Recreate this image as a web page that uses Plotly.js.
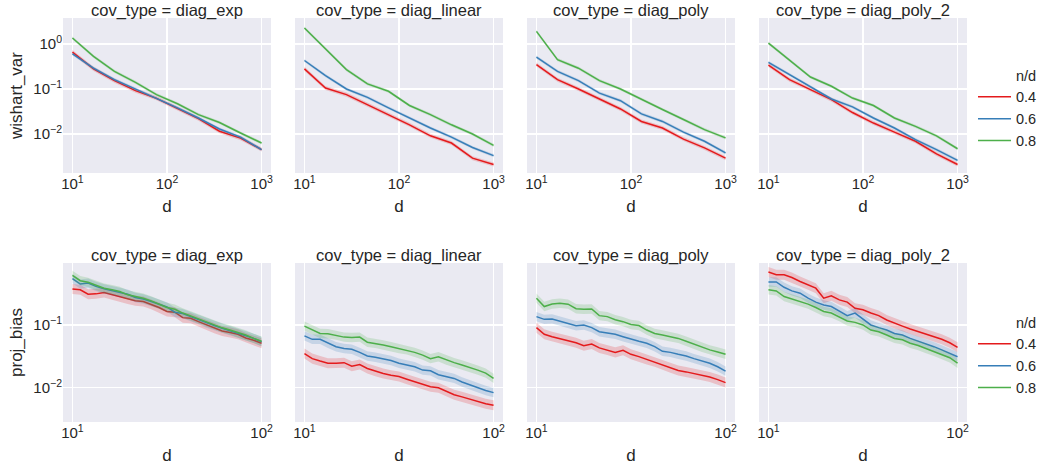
<!DOCTYPE html>
<html><head><meta charset="utf-8">
<script src="https://cdn.plot.ly/plotly-3.0.1.min.js"></script>
<style>html,body{margin:0;padding:0;background:#fff}</style>
</head><body><div id="chart" style="width:1042px;height:466px"></div>
<script>
// ---------------- data ----------------
const dTop = [10, 16.7, 27.8, 46.4, 77.4, 129, 215, 359, 599, 1000];
const dBottom = [10, 11.0, 12.1, 13.3, 14.7, 16.2, 17.8, 19.6, 21.5, 23.7, 26.1, 28.7, 31.6, 34.8, 38.3, 42.2, 46.4, 51.1, 56.2, 61.9, 68.1, 75.0, 82.5, 90.9, 100];
const ndLabels = ['0.4', '0.6', '0.8'];
const covTypes = ['diag_exp', 'diag_linear', 'diag_poly', 'diag_poly_2'];

// wishart_var (top row)
const wv_exp_04 = [0.66, 0.28, 0.153, 0.092, 0.062, 0.0366, 0.0219, 0.0115, 0.0081, 0.0045];
const wv_exp_06 = [0.60, 0.29, 0.161, 0.100, 0.063, 0.038, 0.0227, 0.0129, 0.0085, 0.0045];
const wv_exp_08 = [1.36, 0.53, 0.247, 0.140, 0.075, 0.047, 0.027, 0.018, 0.0105, 0.0063];
const wv_lin_04 = [0.28, 0.105, 0.075, 0.045, 0.027, 0.016, 0.0091, 0.0063, 0.0029, 0.0021];
const wv_lin_06 = [0.43, 0.198, 0.100, 0.065, 0.038, 0.0227, 0.0136, 0.0085, 0.0050, 0.0033];
const wv_lin_08 = [2.27, 0.77, 0.27, 0.13, 0.089, 0.043, 0.027, 0.016, 0.010, 0.0056];
const wv_poly_04 = [0.35, 0.161, 0.100, 0.061, 0.036, 0.019, 0.0136, 0.0077, 0.0049, 0.0029];
const wv_poly_06 = [0.51, 0.247, 0.153, 0.081, 0.055, 0.028, 0.019, 0.011, 0.0069, 0.0038];
const wv_poly_08 = [1.91, 0.45, 0.29, 0.153, 0.100, 0.058, 0.035, 0.021, 0.0125, 0.0082];
const wv_poly2_04 = [0.34, 0.161, 0.097, 0.058, 0.030, 0.0175, 0.011, 0.0069, 0.0036, 0.0021];
const wv_poly2_06 = [0.39, 0.209, 0.115, 0.060, 0.040, 0.0227, 0.0136, 0.0075, 0.0045, 0.0026];
const wv_poly2_08 = [1.05, 0.43, 0.185, 0.115, 0.063, 0.043, 0.0227, 0.0148, 0.0091, 0.0047];

// proj_bias (bottom row)
const pb_exp_04 = [0.377, 0.365, 0.31, 0.314, 0.33, 0.303, 0.285, 0.26, 0.243, 0.237, 0.215, 0.19, 0.164, 0.16, 0.131, 0.128, 0.113, 0.1, 0.0885, 0.08, 0.076, 0.071, 0.062, 0.057, 0.051];
const pb_exp_06 = [0.55, 0.45, 0.466, 0.413, 0.377, 0.35, 0.33, 0.31, 0.275, 0.26, 0.237, 0.215, 0.194, 0.16, 0.152, 0.136, 0.122, 0.107, 0.098, 0.0885, 0.081, 0.074, 0.067, 0.061, 0.054];
const pb_exp_08 = [0.62, 0.51, 0.48, 0.43, 0.387, 0.365, 0.343, 0.303, 0.285, 0.268, 0.243, 0.215, 0.19, 0.178, 0.155, 0.14, 0.125, 0.11, 0.1, 0.09, 0.083, 0.076, 0.069, 0.061, 0.055];
const pb_lin_04 = [0.035, 0.029, 0.0265, 0.0245, 0.0245, 0.025, 0.022, 0.0233, 0.0202, 0.0183, 0.0168, 0.0158, 0.015, 0.0136, 0.0123, 0.0112, 0.0103, 0.0099, 0.0087, 0.0077, 0.0071, 0.0065, 0.006, 0.0055, 0.0052];
const pb_lin_06 = [0.067, 0.059, 0.059, 0.051, 0.045, 0.042, 0.041, 0.0365, 0.032, 0.0305, 0.029, 0.027, 0.0245, 0.023, 0.0215, 0.019, 0.0185, 0.016, 0.015, 0.014, 0.0123, 0.011, 0.0099, 0.009, 0.0083];
const pb_lin_08 = [0.096, 0.083, 0.073, 0.0725, 0.069, 0.064, 0.063, 0.064, 0.053, 0.051, 0.048, 0.045, 0.042, 0.04, 0.0365, 0.033, 0.029, 0.031, 0.0275, 0.025, 0.023, 0.021, 0.019, 0.017, 0.014];
const pb_poly_04 = [0.0906, 0.071, 0.065, 0.061, 0.056, 0.052, 0.0466, 0.0495, 0.043, 0.04, 0.0365, 0.0395, 0.034, 0.0312, 0.0282, 0.0258, 0.0234, 0.0207, 0.0187, 0.0178, 0.0168, 0.0158, 0.0147, 0.0134, 0.012];
const pb_poly_06 = [0.136, 0.123, 0.125, 0.116, 0.106, 0.097, 0.1, 0.0906, 0.078, 0.075, 0.071, 0.065, 0.059, 0.055, 0.051, 0.045, 0.038, 0.0365, 0.034, 0.032, 0.029, 0.027, 0.0245, 0.0215, 0.0183];
const pb_poly_08 = [0.268, 0.197, 0.216, 0.222, 0.215, 0.182, 0.178, 0.18, 0.141, 0.136, 0.121, 0.113, 0.102, 0.098, 0.083, 0.073, 0.069, 0.065, 0.061, 0.055, 0.049, 0.044, 0.04, 0.037, 0.034];
const pb_poly2_04 = [0.70, 0.634, 0.634, 0.574, 0.495, 0.438, 0.387, 0.268, 0.292, 0.252, 0.232, 0.185, 0.175, 0.155, 0.141, 0.12, 0.106, 0.096, 0.086, 0.078, 0.072, 0.066, 0.059, 0.052, 0.044];
const pb_poly2_06 = [0.487, 0.487, 0.40, 0.35, 0.322, 0.268, 0.232, 0.209, 0.197, 0.164, 0.141, 0.155, 0.125, 0.1, 0.0906, 0.083, 0.073, 0.069, 0.061, 0.055, 0.051, 0.045, 0.04, 0.035, 0.031];
const pb_poly2_08 = [0.365, 0.35, 0.285, 0.26, 0.237, 0.215, 0.19, 0.164, 0.155, 0.136, 0.116, 0.11, 0.1, 0.083, 0.078, 0.069, 0.061, 0.058, 0.051, 0.047, 0.042, 0.038, 0.034, 0.03, 0.0245];

// confidence band half-width (log10 units) per n/d
const ciTop = [0.045, 0.035, 0.035];
const ciBottom = [0.08, 0.075, 0.075];

// tick labels
const xTickValsTop = [10, 100, 1000];
const xTickTextTop = ['10<sup>1</sup>', '10<sup>2</sup>', '10<sup>3</sup>'];
const xTickValsBottom = [10, 100];
const xTickTextBottom = ['10<sup>1</sup>', '10<sup>2</sup>'];
const yTickVals = [1, 0.1, 0.01];
const yTickText = ['10<sup>0</sup>', '10<sup>\u22121</sup>', '10<sup>\u22122</sup>'];

// ---------------- styling ----------------
const W = 1042, H = 466;
const colors = ['#e41a1c', '#377eb8', '#4daf4a'];
const fills = ['rgba(228,26,28,0.2)', 'rgba(55,126,184,0.2)', 'rgba(77,175,74,0.2)'];
const txt = '#262626';
const FONT = 'Liberation Sans, Arial, sans-serif';
const colLeft = [63, 295, 527, 759], panelW = 208;
const rowPix = [[18, 173], [263, 422]];

const panels = [
  {row: 0, series: [wv_exp_04, wv_exp_06, wv_exp_08]},
  {row: 0, series: [wv_lin_04, wv_lin_06, wv_lin_08]},
  {row: 0, series: [wv_poly_04, wv_poly_06, wv_poly_08]},
  {row: 0, series: [wv_poly2_04, wv_poly2_06, wv_poly2_08]},
  {row: 1, series: [pb_exp_04, pb_exp_06, pb_exp_08]},
  {row: 1, series: [pb_lin_04, pb_lin_06, pb_lin_08]},
  {row: 1, series: [pb_poly_04, pb_poly_06, pb_poly_08]},
  {row: 1, series: [pb_poly2_04, pb_poly2_06, pb_poly2_08]}
];

const traces = [];
const legendBase = {x: 973 / W, xanchor: 'left', yanchor: 'top', itemwidth: 33,
  font: {size: 14.5, color: txt}, bgcolor: 'rgba(0,0,0,0)', traceorder: 'normal', tracegroupgap: 0};
const layout = {
  width: W, height: H, autosize: false,
  margin: {l: 0, r: 0, t: 0, b: 0},
  paper_bgcolor: '#ffffff', plot_bgcolor: '#EAEAF2',
  font: {family: FONT, color: txt, size: 15},
  showlegend: true,
  annotations: [],
  legend: Object.assign({}, legendBase, {y: (H - 59) / H}),
  legend2: Object.assign({}, legendBase, {y: (H - 306) / H})
};

// legend headers (seaborn-style hue title entry)
['legend', 'legend2'].forEach((lg, i) => {
  traces.push({type: 'scatter', mode: 'lines', x: [null], y: [null], name: 'n/d',
    xaxis: i === 0 ? 'x4' : 'x8', yaxis: i === 0 ? 'y4' : 'y8',
    line: {color: 'rgba(0,0,0,0)', width: 1.5}, legend: lg, showlegend: true, hoverinfo: 'skip'});
});

panels.forEach((p, k) => {
  const n = k + 1;
  const col = k % 4;
  const xs = p.row === 0 ? dTop : dBottom;
  const ci = p.row === 0 ? ciTop : ciBottom;
  const xa = 'x' + n, ya = 'y' + n;
  p.series.forEach((vals, s) => {
    const f = Math.pow(10, ci[s]);
    const upper = vals.map(v => v * f);
    const lower = vals.map(v => v / f);
    traces.push({type: 'scatter', mode: 'lines', xaxis: xa, yaxis: ya,
      x: xs.concat(xs.slice().reverse()), y: upper.concat(lower.slice().reverse()),
      fill: 'toself', fillcolor: fills[s], line: {width: 0, color: fills[s]},
      showlegend: false, hoverinfo: 'skip'});
    const showLg = col === 3;
    traces.push({type: 'scatter', mode: 'lines', xaxis: xa, yaxis: ya,
      x: xs, y: vals, name: ndLabels[s],
      line: {color: colors[s], width: 1.5},
      showlegend: showLg, legend: p.row === 0 ? 'legend' : 'legend2'});
  });

  const yp = rowPix[p.row];
  const ydom = [(H - yp[1]) / H, (H - yp[0]) / H];
  const xdom = [colLeft[col] / W, (colLeft[col] + panelW) / W];
  const axName = n === 1 ? '' : n;
  layout['xaxis' + axName] = {
    domain: xdom, anchor: ya, type: 'log',
    range: p.row === 0 ? [0.9, 3.1] : [0.95, 2.05],
    tickmode: 'array',
    tickvals: p.row === 0 ? xTickValsTop : xTickValsBottom,
    ticktext: p.row === 0 ? xTickTextTop : xTickTextBottom,
    showgrid: true, gridcolor: '#ffffff', gridwidth: 1.4,
    zeroline: false, showline: false, ticks: '',
    tickfont: {size: 15, color: txt},
    title: {text: 'd', font: {size: 17, color: txt}, standoff: 9}
  };
  layout['yaxis' + axName] = {
    domain: ydom, anchor: xa, type: 'log',
    range: p.row === 0 ? [-2.867, 0.578] : [-2.55, -0.01],
    tickmode: 'array', tickvals: yTickVals, ticktext: yTickText,
    showticklabels: col === 0,
    showgrid: true, gridcolor: '#ffffff', gridwidth: 1.4,
    zeroline: false, showline: false, ticks: '',
    tickfont: {size: 15, color: txt},
    title: col === 0 ? {text: p.row === 0 ? 'wishart_var' : 'proj_bias', font: {size: 17, color: txt}, standoff: 6} : undefined
  };
  layout.annotations.push({
    text: 'cov_type = ' + covTypes[col],
    xref: 'paper', yref: 'paper',
    x: (colLeft[col] + panelW / 2) / W, y: ydom[1],
    xanchor: 'center', yanchor: 'middle', yshift: 8, showarrow: false,
    font: {size: 16.5, color: txt}
  });
});

Plotly.newPlot('chart', traces, layout, {staticPlot: true, displayModeBar: false});
</script>
</body></html>
